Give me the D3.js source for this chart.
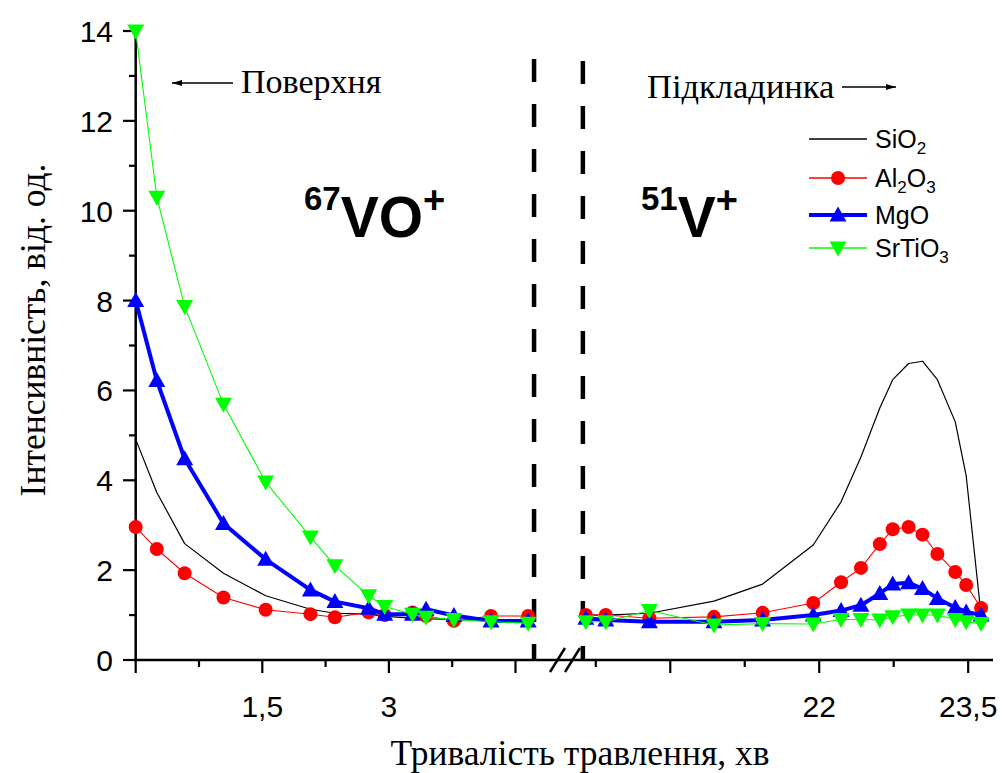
<!DOCTYPE html>
<html>
<head>
<meta charset="utf-8">
<script src="https://cdn.jsdelivr.net/npm/d3@7/dist/d3.min.js"></script>
<style>
  html, body { margin: 0; padding: 0; background: #fff; }
  svg { display: block; }
</style>
</head>
<body>
<svg id="chart" width="1002" height="773"></svg>
<script>
// Etching time (min) at which each profile point was recorded
const leftTimes  = [0, 0.25, 0.58, 1.04, 1.54, 2.07, 2.36, 2.76, 2.95, 3.28, 3.44, 3.77, 4.21, 4.65];
const rightTimes = [19.65, 19.85, 20.29, 20.94, 21.43, 21.94, 22.22, 22.42, 22.61, 22.74, 22.90, 23.04, 23.19, 23.37, 23.48, 23.63];

// Intensity, arb. units — 67VO+ near the surface (left) and 51V+ near the substrate (right)
const sio2Left    = [4.91, 3.73, 2.59, 1.93, 1.43, 1.13, 1.04, 1.02, 0.97, 0.93, 0.92, 0.90, 0.88, 0.87];
const sio2Right   = [1.00, 1.00, 1.04, 1.31, 1.69, 2.56, 3.52, 4.52, 5.61, 6.24, 6.60, 6.65, 6.24, 5.30, 4.10, 1.00];
const al2o3Left   = [2.96, 2.47, 1.93, 1.39, 1.12, 1.02, 0.95, 1.06, 1.00, 1.06, 0.98, 0.87, 0.98, 0.98];
const al2o3Right  = [1.00, 1.00, 0.93, 0.96, 1.05, 1.27, 1.73, 2.05, 2.58, 2.91, 2.96, 2.79, 2.36, 1.96, 1.67, 1.16];
const mgoLeft     = [8.00, 6.22, 4.48, 3.04, 2.24, 1.56, 1.30, 1.15, 1.02, 1.02, 1.13, 0.99, 0.87, 0.87];
const mgoRight    = [0.93, 0.89, 0.85, 0.85, 0.89, 1.00, 1.10, 1.22, 1.48, 1.69, 1.72, 1.59, 1.37, 1.17, 1.07, 1.00];
const srtio3Left  = [14.0, 10.3, 7.87, 5.69, 3.96, 2.74, 2.10, 1.43, 1.19, 1.02, 0.95, 0.90, 0.85, 0.82];
const srtio3Right = [0.85, 0.85, 1.10, 0.78, 0.81, 0.80, 0.90, 0.90, 0.89, 0.96, 1.00, 1.00, 1.00, 0.90, 0.85, 0.81];

// Axis ticks
const yMajor = [0, 2, 4, 6, 8, 10, 12, 14];
const yMinor = [1, 3, 5, 7, 9, 11, 13];
const leftMajor  = [0, 1.5, 3, 4.5];
const leftMinor  = [0.75, 2.25, 3.75];
const rightMajor = [20.5, 22, 23.5];
const rightMinor = [19.75, 21.25, 22.75];
const tickLabels = { 1.5: "1,5", 3: "3", 22: "22", 23.5: "23,5" };

// Region boundaries (dashed markers) on each side of the break
const leftBoundary = 4.72;
const rightBoundary = 19.62;

const series = [
  { name: "SiO", sub: "2", tail: "", sub2: "", color: "#000000", width: 1.2, marker: null,   left: sio2Left,   right: sio2Right },
  { name: "Al", sub: "2", tail: "O", sub2: "3", color: "#ff0000", width: 1.1, marker: "circle", left: al2o3Left,  right: al2o3Right },
  { name: "MgO", sub: "", tail: "", sub2: "", color: "#0000ff", width: 4,   marker: "up",     left: mgoLeft,    right: mgoRight },
  { name: "SrTiO", sub: "3", tail: "", sub2: "", color: "#00ff00", width: 1.1, marker: "down",  left: srtio3Left, right: srtio3Right }
];

const svg = d3.select("#chart");
const sans = "'Liberation Sans', Arial, sans-serif";
const serif = "'Liberation Serif', 'Times New Roman', serif";

const y = d3.scaleLinear().domain([0, 14]).range([660, 31]);
const xL = d3.scaleLinear().domain([0, 4.98]).range([135.7, 556]);
const xR = d3.scaleLinear().domain([19.45, 23.75]).range([566, 993]);

// ---- axes ----
const axisG = svg.append("g").attr("stroke", "#000").attr("fill", "none");
axisG.append("line").attr("x1", 135.7).attr("x2", 135.7).attr("y1", y(14) - 2).attr("y2", y(0) + 1.2).attr("stroke-width", 2.5);
axisG.append("line").attr("x1", 134.5).attr("x2", 993).attr("y1", y(0)).attr("y2", y(0)).attr("stroke-width", 2.5);

yMajor.forEach(v => axisG.append("line").attr("x1", 123).attr("x2", 135.7).attr("y1", y(v)).attr("y2", y(v)).attr("stroke-width", 2.2));
yMinor.forEach(v => axisG.append("line").attr("x1", 129).attr("x2", 135.7).attr("y1", y(v)).attr("y2", y(v)).attr("stroke-width", 2.2));

svg.append("g").selectAll("text").data(yMajor).join("text")
  .attr("x", 113).attr("y", d => y(d) + 11)
  .attr("text-anchor", "end").attr("font-family", sans).attr("font-size", 30)
  .text(d => d);

function xTicks(scale, major, minor) {
  major.forEach(v => axisG.append("line").attr("x1", scale(v)).attr("x2", scale(v)).attr("y1", y(0)).attr("y2", y(0) + 13).attr("stroke-width", 2.2));
  minor.forEach(v => axisG.append("line").attr("x1", scale(v)).attr("x2", scale(v)).attr("y1", y(0)).attr("y2", y(0) + 7).attr("stroke-width", 2.2));
  major.filter(v => tickLabels[v]).forEach(v =>
    svg.append("text").attr("x", scale(v)).attr("y", 717)
      .attr("text-anchor", "middle").attr("font-family", sans).attr("font-size", 30)
      .text(tickLabels[v]));
}
xTicks(xL, leftMajor, leftMinor);
xTicks(xR, rightMajor, rightMinor);

// axis break marks
[[550, 565], [565, 580]].forEach(([a, b]) =>
  axisG.append("line").attr("x1", a).attr("y1", 672).attr("x2", b).attr("y2", 648).attr("stroke-width", 2.4));

// axis titles
svg.append("text").attr("x", 580).attr("y", 765)
  .attr("text-anchor", "middle").attr("font-family", serif).attr("font-size", 35.5)
  .text("Тривалість травлення, хв");
svg.append("text").attr("transform", "translate(45,330) rotate(-90)")
  .attr("text-anchor", "middle").attr("font-family", serif).attr("font-size", 35.5)
  .text("Інтенсивність, від. од.");

// ---- region boundaries ----
[xL(leftBoundary), xR(rightBoundary)].forEach((px, i) =>
  svg.append("line").attr("x1", px).attr("x2", px).attr("y1", i === 0 ? 59 : 61).attr("y2", y(0))
    .attr("stroke", "#000").attr("stroke-width", 4.5).attr("stroke-dasharray", "23,22"));

// ---- data ----
function markerPath(type) {
  if (type === "up") return "M0,-8.5L8.5,6.5L-8.5,6.5Z";
  if (type === "down") return "M0,8.5L8.5,-6.5L-8.5,-6.5Z";
  return null;
}
function drawMarker(g, type, color, cx, cy) {
  if (type === "circle") {
    g.append("circle").attr("cx", cx).attr("cy", cy).attr("r", 7).attr("fill", color);
  } else if (type) {
    g.append("path").attr("d", markerPath(type)).attr("transform", `translate(${cx},${cy})`).attr("fill", color);
  }
}

const plotG = svg.append("g");
series.forEach(s => {
  const g = plotG.append("g");
  [[xL, leftTimes, s.left], [xR, rightTimes, s.right]].forEach(([sc, ts, vals]) => {
    const pts = ts.map((t, i) => [t, vals[i]]);
    const line = d3.line().x(d => sc(d[0])).y(d => y(d[1]));
    g.append("path").attr("d", line(pts)).attr("fill", "none")
      .attr("stroke", s.color).attr("stroke-width", s.width).attr("stroke-linejoin", "round");
    if (s.marker) pts.forEach(d => drawMarker(g, s.marker, s.color, sc(d[0]), y(d[1])));
  });
});

// ---- ion labels ----
function ionLabel(x, yb, mass, ion, charge) {
  const t = svg.append("text").attr("x", x).attr("y", yb)
    .attr("font-family", sans).attr("font-weight", "bold");
  t.append("tspan").attr("font-size", 33).attr("dy", -27).text(mass);
  t.append("tspan").attr("font-size", 57).attr("dy", 27).text(ion);
  t.append("tspan").attr("font-size", 38).attr("dy", -24).text(charge);
}
ionLabel(304, 237, "67", "VO", "+");
ionLabel(641, 237, "51", "V", "+");

// ---- surface / substrate annotations ----
svg.append("defs").append("marker").attr("id", "arrowhead")
  .attr("viewBox", "0 0 10 6").attr("refX", 10).attr("refY", 3)
  .attr("markerWidth", 10).attr("markerHeight", 6).attr("markerUnits", "userSpaceOnUse")
  .attr("orient", "auto")
  .append("path").attr("d", "M0,0L10,3L0,6Z").attr("fill", "#000");

svg.append("line").attr("x1", 233).attr("y1", 83).attr("x2", 172).attr("y2", 83)
  .attr("stroke", "#000").attr("stroke-width", 1.3).attr("marker-end", "url(#arrowhead)");
svg.append("text").attr("x", 241).attr("y", 93).attr("font-family", serif).attr("font-size", 34).text("Поверхня");

svg.append("text").attr("x", 647).attr("y", 98).attr("font-family", serif).attr("font-size", 34.5).text("Підкладинка");
svg.append("line").attr("x1", 842).attr("y1", 87).attr("x2", 896).attr("y2", 87)
  .attr("stroke", "#000").attr("stroke-width", 1.3).attr("marker-end", "url(#arrowhead)");

// ---- legend ----
const legendY = [139, 178, 215, 248];
const legend = svg.append("g");
series.forEach((s, i) => {
  const ly = legendY[i];
  legend.append("line").attr("x1", 809).attr("x2", 867).attr("y1", ly).attr("y2", ly)
    .attr("stroke", s.color).attr("stroke-width", s.width === 4 ? 4 : 1.3);
  drawMarker(legend, s.marker, s.color, 838, ly);
  const t = legend.append("text").attr("x", 875).attr("y", ly + 9)
    .attr("font-family", sans).attr("font-size", 25);
  t.append("tspan").text(s.name);
  if (s.sub) t.append("tspan").attr("font-size", 17).attr("dy", 6).text(s.sub);
  if (s.tail) t.append("tspan").attr("font-size", 25).attr("dy", -6).text(s.tail);
  if (s.sub2) t.append("tspan").attr("font-size", 17).attr("dy", 6).text(s.sub2);
});
</script>
</body>
</html>
